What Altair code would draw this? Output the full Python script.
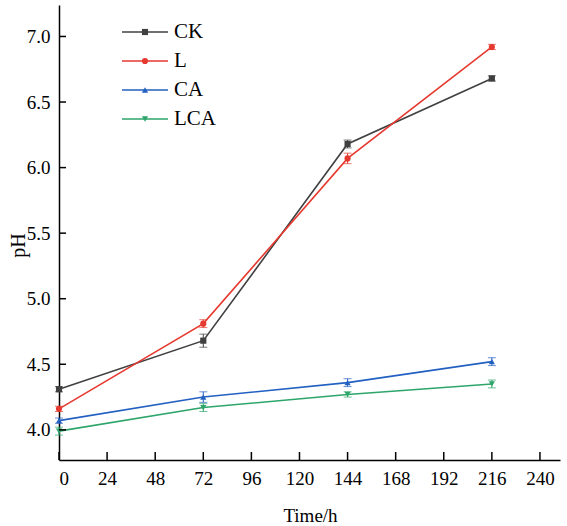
import altair as alt
import pandas as pd

# Sampling times (h)
hours = [0, 72, 144, 216]

# Series names, pH means and standard deviations
series = ["CK", "L", "CA", "LCA"]
ph_ck = [4.31, 4.68, 6.18, 6.68]
ph_l = [4.16, 4.81, 6.07, 6.92]
ph_ca = [4.07, 4.25, 4.36, 4.52]
ph_lca = [3.99, 4.17, 4.27, 4.35]
sd_ck = [0.02, 0.05, 0.03, 0.02]
sd_l = [0.02, 0.03, 0.04, 0.02]
sd_ca = [0.02, 0.04, 0.03, 0.03]
sd_lca = [0.03, 0.03, 0.02, 0.03]

colors = ["#404040", "#e6392f", "#2260c2", "#2ea56a"]
shapes = ["square", "circle", "triangle-up", "triangle-down"]

x_ticks = [0, 24, 48, 72, 96, 120, 144, 168, 192, 216, 240]
y_ticks = [4.0, 4.5, 5.0, 5.5, 6.0, 6.5, 7.0]

FONT = "Liberation Serif"
W, H = 501, 455

rows = []
for name, vals, sds in zip(series, [ph_ck, ph_l, ph_ca, ph_lca],
                           [sd_ck, sd_l, sd_ca, sd_lca]):
    for t, v, s in zip(hours, vals, sds):
        rows.append({"series": name, "time": t, "ph": v,
                     "lo": v - s, "hi": v + s})
df = pd.DataFrame(rows)

xscale = alt.Scale(domain=[0, 250], nice=False, zero=False)
yscale = alt.Scale(domain=[3.77, 7.24], nice=False, zero=False)
cscale = alt.Scale(domain=series, range=colors)
sscale = alt.Scale(domain=series, range=shapes)

x_axis = alt.Axis(values=x_ticks, tickSize=0, labelPadding=9,
                  title="Time/h", titleX=251, titleY=55,
                  titleBaseline="middle")
y_axis = alt.Axis(values=y_ticks, format=".1f", tickSize=0, labelPadding=9,
                  title="pH", titleX=-41, titleY=240,
                  titleBaseline="middle", titleAngle=-90, titleFontSize=20)

base = alt.Chart(df)
color = alt.Color("series:N", scale=cscale, legend=None)

lines = base.mark_line(strokeWidth=1.6).encode(
    x=alt.X("time:Q", scale=xscale, axis=x_axis),
    y=alt.Y("ph:Q", scale=yscale, axis=y_axis),
    color=color,
    detail="series:N",
)
err = base.mark_rule(strokeWidth=1).encode(
    x="time:Q", y="lo:Q", y2="hi:Q", color=color)
cap_lo = base.mark_tick(size=8, thickness=1, orient="horizontal").encode(
    x="time:Q", y="lo:Q", color=color)
cap_hi = base.mark_tick(size=8, thickness=1, orient="horizontal").encode(
    x="time:Q", y="hi:Q", color=color)
points = base.mark_point(filled=True, size=38, opacity=1).encode(
    x="time:Q", y="ph:Q", color=color,
    shape=alt.Shape("series:N", scale=sscale, legend=None))

# Inward-pointing axis ticks
xt = alt.Chart(pd.DataFrame({"t": x_ticks})).mark_rule(
    color="black", strokeWidth=1.5).encode(
    x="t:Q", y=alt.value(H), y2=alt.value(H - 8))
yt = alt.Chart(pd.DataFrame({"v": y_ticks})).mark_rule(
    color="black", strokeWidth=1.5).encode(
    y="v:Q", x=alt.value(0), x2=alt.value(7))

# Legend built from the series list
leg_df = pd.DataFrame({"series": series, "i": list(range(len(series)))})
leg = alt.Chart(leg_df).transform_calculate(ly="27 + 29 * datum.i")
leg_y = alt.Y("ly:Q", scale=None)
leg_line = leg.mark_rule(strokeWidth=1.6).encode(
    x=alt.value(63), x2=alt.value(109), y=leg_y, color=color)
leg_pt = leg.mark_point(filled=True, size=38, opacity=1).encode(
    x=alt.value(86), y=leg_y, color=color,
    shape=alt.Shape("series:N", scale=sscale, legend=None))
leg_txt = leg.mark_text(align="left", baseline="middle", font=FONT,
                        fontSize=21, color="black").encode(
    x=alt.value(115), y=leg_y, text="series:N")

chart = alt.layer(
    lines, err, cap_lo, cap_hi, points, xt, yt, leg_line, leg_pt, leg_txt
).properties(
    width=W, height=H,
    autosize=alt.AutoSizeParams(type="none"),
    padding={"left": 59, "top": 5, "right": 7, "bottom": 66},
    background="white",
).configure_view(stroke=None).configure_axis(
    labelFont=FONT, labelFontSize=19, labelColor="black",
    titleFont=FONT, titleFontSize=19, titleFontWeight="normal",
    titleColor="black", grid=False, domainColor="black", domainWidth=1.5,
)

chart.save("out.html", embed_options={"renderer": "svg", "actions": False})
